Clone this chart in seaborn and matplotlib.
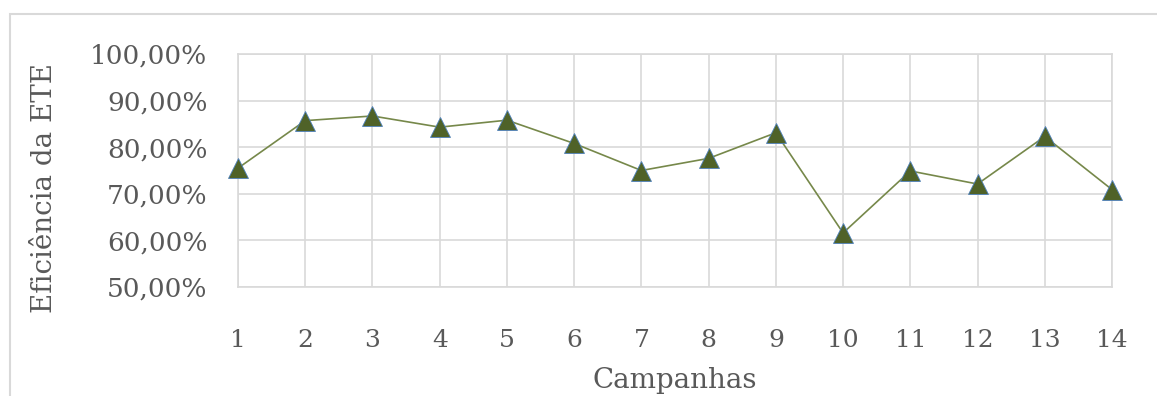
import numpy as np
import pandas as pd
import seaborn as sns
import matplotlib.pyplot as plt
from matplotlib.patches import Rectangle
from matplotlib.ticker import FuncFormatter

# Campaign efficiency values
campanhas = list(range(1, 15))
eficiencia = [0.755, 0.857, 0.867, 0.843, 0.858, 0.808, 0.750,
              0.776, 0.831, 0.616, 0.749, 0.721, 0.823, 0.709]
yticks = [0.5, 0.6, 0.7, 0.8, 0.9, 1.0]

data = pd.DataFrame({"campanha": campanhas, "eficiencia": eficiencia})

sns.set_style("whitegrid")
plt.rcParams['font.family'] = ['DejaVu Serif']
text_color = "#595959"
grid_color = "#d9d9d9"

fig = plt.figure(figsize=(11.57, 3.96), dpi=100)
ax = fig.add_axes([238 / 1157, 1 - 287 / 396, (1112 - 238) / 1157, (287 - 54) / 396])

sns.lineplot(x="campanha", y="eficiencia", data=data, ax=ax,
             color="#76884a", linewidth=1.2, marker="^", markersize=14,
             markerfacecolor="#4f6228", markeredgecolor="#4f81bd",
             markeredgewidth=0.6, zorder=3, clip_on=False)

ax.set_xlim(1, 14)
ax.set_ylim(0.5, 1.0)
ax.set_xticks(campanhas)
ax.set_yticks(yticks)
ax.yaxis.set_major_formatter(FuncFormatter(lambda v, p: f"{v * 100:.2f}%".replace('.', ',')))
ax.grid(True, color=grid_color, linewidth=1.2)
for s in ax.spines.values():
    s.set_color(grid_color)
    s.set_linewidth(1.2)
ax.tick_params(axis='x', length=0, pad=30, labelsize=18, labelcolor=text_color)
ax.tick_params(axis='y', length=0, pad=22, labelsize=19, labelcolor=text_color)
ax.set_xlabel("")
ax.set_ylabel("")

fig.text(675 / 1157, 1 - 380 / 396, "Campanhas", ha="center", va="center",
         fontsize=20, color=text_color)
fig.text(45 / 1157, 1 - 188 / 396, "Eficiência da ETE", ha="center", va="center",
         rotation=90, fontsize=20, color=text_color)

# outer chart frame
fig.patches.append(Rectangle((10 / 1157, -0.1), 1.2, 1 - 14 / 396 + 0.1,
                             transform=fig.transFigure, fill=False,
                             edgecolor=grid_color, linewidth=1.5))

fig.savefig("out.png", dpi=100)
